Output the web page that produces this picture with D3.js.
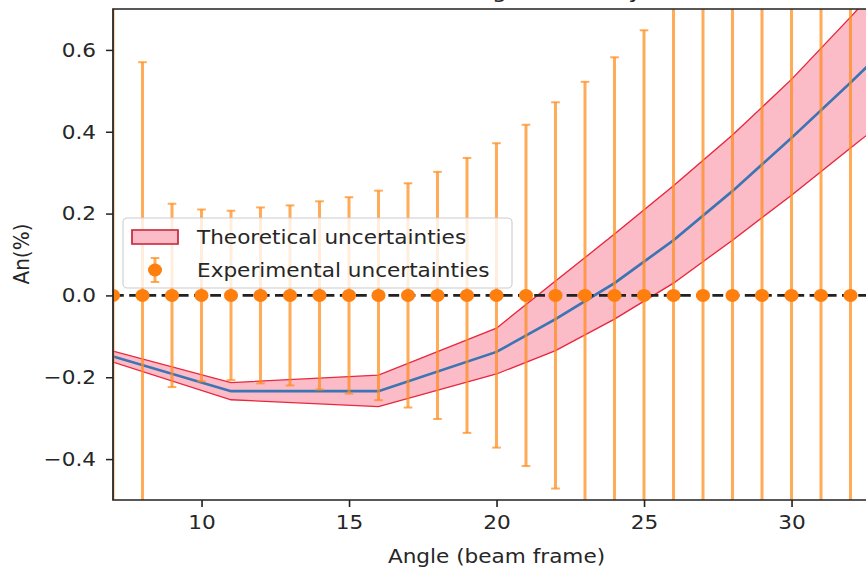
<!DOCTYPE html>
<html>
<head>
<meta charset="utf-8">
<script src="https://cdn.jsdelivr.net/npm/d3@7"></script>
<style>
  html, body { margin: 0; padding: 0; background: #ffffff; }
  svg { display: block; }
  text { font-family: "DejaVu Sans", sans-serif; fill: #262626; }
</style>
</head>
<body>
<svg id="chart"></svg>
<script>
// Measured asymmetry: every angle sits at zero, with its experimental error
const angles = [7, 8, 9, 10, 11, 12, 13, 14, 15, 16, 17, 18, 19, 20,
                21, 22, 23, 24, 25, 26, 27, 28, 29, 30, 31, 32, 33];
const measured = [0, 0, 0, 0, 0, 0, 0, 0, 0, 0, 0, 0, 0, 0,
                  0, 0, 0, 0, 0, 0, 0, 0, 0, 0, 0, 0, 0];
const measuredErr = [0.95, 0.57, 0.224, 0.21, 0.207, 0.215, 0.22, 0.23, 0.24, 0.256,
                     0.274, 0.302, 0.336, 0.372, 0.417, 0.472, 0.522, 0.582, 0.648,
                     0.72, 0.79, 0.87, 0.95, 1.03, 1.12, 1.21, 1.30];

// Theoretical prediction with its uncertainty band
const theoryAngles  = [7, 11, 16, 20, 22, 24, 26, 28, 30, 32, 34];
const theoryCentral = [-0.149, -0.234, -0.234, -0.138, -0.058, 0.030, 0.135, 0.255, 0.385, 0.520, 0.660];
const theoryLow     = [-0.163, -0.255, -0.272, -0.192, -0.135, -0.058, 0.030, 0.135, 0.245, 0.360, 0.475];
const theoryHigh    = [-0.136, -0.213, -0.195, -0.080, 0.035, 0.150, 0.268, 0.392, 0.528, 0.680, 0.840];

const xTicks = [10, 15, 20, 25, 30];
const yTicks = [-0.4, -0.2, 0.0, 0.2, 0.4, 0.6];

// The figure is drawn slightly wider than tall (horizontal stretch SX)
const W = 866, H = 570, SX = 1.08;
const VW = W / SX;
const svg = d3.select("#chart")
  .attr("width", W).attr("height", H)
  .attr("viewBox", `0 0 ${VW} ${H}`)
  .attr("preserveAspectRatio", "none");

const plot = { left: 113 / SX, right: 880 / SX, top: 9, bottom: 500 };

const x = d3.scaleLinear().domain([7, 33]).range([plot.left, plot.right]);
const y = d3.scaleLinear().domain([-0.5, 0.7]).range([plot.bottom, plot.top]);

svg.append("defs").append("clipPath").attr("id", "plotClip")
  .append("rect")
  .attr("x", plot.left).attr("y", plot.top)
  .attr("width", plot.right - plot.left).attr("height", plot.bottom - plot.top);

const body = svg.append("g").attr("clip-path", "url(#plotClip)");

// Theory band
const theory = theoryAngles.map((a, i) => ({ a, c: theoryCentral[i], lo: theoryLow[i], hi: theoryHigh[i] }));
body.append("path")
  .datum(theory)
  .attr("d", d3.area().x(d => x(d.a)).y0(d => y(d.lo)).y1(d => y(d.hi)))
  .attr("fill", "#fbbcc8")
  .attr("stroke", "none");
["lo", "hi"].forEach(k => {
  body.append("path")
    .datum(theory)
    .attr("d", d3.line().x(d => x(d.a)).y(d => y(d[k])))
    .attr("fill", "none")
    .attr("stroke", "#e8283c")
    .attr("stroke-width", 1.3);
});
body.append("path")
  .datum(theory)
  .attr("d", d3.line().x(d => x(d.a)).y(d => y(d.c)))
  .attr("fill", "none")
  .attr("stroke", "#3d74b3")
  .attr("stroke-width", 2.6);

// Zero reference line
body.append("line")
  .attr("x1", plot.left).attr("x2", plot.right)
  .attr("y1", y(0)).attr("y2", y(0))
  .attr("stroke", "#222")
  .attr("stroke-width", 2.6)
  .attr("stroke-dasharray", "10,5");

// Experimental points with error bars
const pts = angles.map((a, i) => ({ a, v: measured[i], e: measuredErr[i] }));
const eb = body.append("g").attr("stroke", "#ff8c1a").attr("stroke-opacity", 0.72);
eb.selectAll("line.bar").data(pts).join("line")
  .attr("class", "bar")
  .attr("x1", d => x(d.a)).attr("x2", d => x(d.a))
  .attr("y1", d => y(d.v - d.e)).attr("y2", d => y(d.v + d.e))
  .attr("stroke-width", 2.8);
["lo", "hi"].forEach(k => {
  eb.selectAll("line.cap" + k).data(pts).join("line")
    .attr("class", "cap" + k)
    .attr("x1", d => x(d.a) - 4).attr("x2", d => x(d.a) + 4)
    .attr("y1", d => y(k === "lo" ? d.v - d.e : d.v + d.e))
    .attr("y2", d => y(k === "lo" ? d.v - d.e : d.v + d.e))
    .attr("stroke-width", 2);
});
body.append("g").selectAll("circle").data(pts).join("circle")
  .attr("cx", d => x(d.a)).attr("cy", d => y(d.v))
  .attr("r", 6.5)
  .attr("fill", "#ff7f0e");

// Axes
const xAxis = svg.append("g")
  .attr("transform", `translate(0,${plot.bottom})`)
  .call(d3.axisBottom(x).tickValues(xTicks).tickFormat(d3.format("d")).tickSize(7).tickPadding(8));
const yAxis = svg.append("g")
  .attr("transform", `translate(${plot.left},0)`)
  .call(d3.axisLeft(y).tickValues(yTicks).tickSize(7 / SX).tickPadding(10 / SX)
        .tickFormat(d => d < 0 ? "\u2212" + d3.format(".1f")(-d) : d3.format(".1f")(d)));
[xAxis, yAxis].forEach(g => {
  g.selectAll("text").attr("font-size", 20).attr("font-family", "DejaVu Sans, sans-serif").attr("fill", "#262626");
  g.selectAll("line").attr("stroke", "#222").attr("stroke-width", 1.5);
  g.select(".domain").remove();
});

// Frame (top, left and bottom spines)
svg.append("path")
  .attr("d", `M${plot.right + 50},${plot.top}H${plot.left}V${plot.bottom}H${plot.right + 50}`)
  .attr("fill", "none").attr("stroke", "#222").attr("stroke-width", 1.6);

// Labels and title
svg.append("text")
  .attr("x", (113 + 880) / 2 / SX).attr("y", 563)
  .attr("text-anchor", "middle").attr("font-size", 20)
  .text("Angle (beam frame)");
svg.append("text")
  .attr("transform", `translate(${29 / SX},${254}) rotate(-90)`)
  .attr("text-anchor", "middle").attr("font-size", 20)
  .text("An(%)");
svg.append("text")
  .attr("x", (113 + 880) / 2 / SX).attr("y", -2)
  .attr("text-anchor", "middle").attr("font-size", 22)
  .text("Total An for each angle in theory vs data");

// Legend
const lg = svg.append("g");
lg.append("rect")
  .attr("x", 123 / SX).attr("y", 218)
  .attr("width", (512 - 123) / SX).attr("height", 70)
  .attr("rx", 4).attr("ry", 4)
  .attr("fill", "#ffffff").attr("fill-opacity", 0.8)
  .attr("stroke", "#cccccc").attr("stroke-width", 1);
lg.append("rect")
  .attr("x", 132 / SX).attr("y", 230)
  .attr("width", (178 - 132) / SX).attr("height", 14)
  .attr("fill", "#fbbcc8").attr("stroke", "#c8283c").attr("stroke-width", 1.6);
lg.append("text").attr("x", 197 / SX).attr("y", 244).attr("font-size", 20)
  .text("Theoretical uncertainties");
const lgx = 155 / SX;
lg.append("line").attr("x1", lgx).attr("x2", lgx).attr("y1", 258).attr("y2", 282)
  .attr("stroke", "#ff8c1a").attr("stroke-opacity", 0.72).attr("stroke-width", 2.8);
[258, 282].forEach(cy => lg.append("line")
  .attr("x1", lgx - 4).attr("x2", lgx + 4).attr("y1", cy).attr("y2", cy)
  .attr("stroke", "#ff8c1a").attr("stroke-opacity", 0.72).attr("stroke-width", 2));
lg.append("circle").attr("cx", lgx).attr("cy", 270).attr("r", 6.5).attr("fill", "#ff7f0e");
lg.append("text").attr("x", 197 / SX).attr("y", 277).attr("font-size", 20)
  .text("Experimental uncertainties");
</script>
</body>
</html>
